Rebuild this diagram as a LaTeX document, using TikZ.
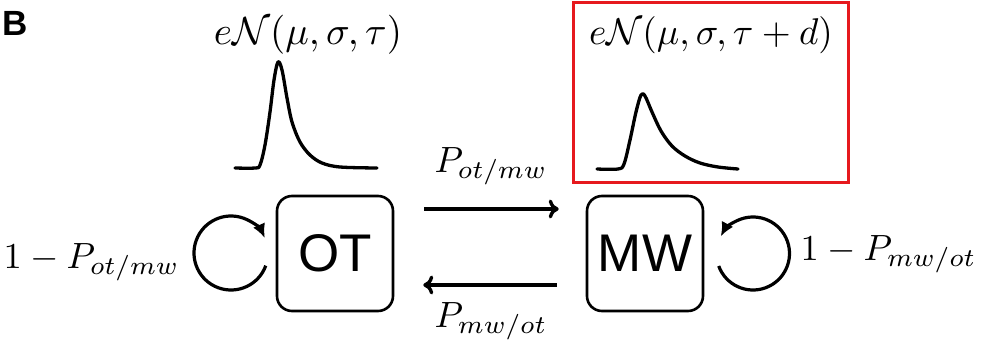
\documentclass[tikz,border=0pt]{standalone}
\usepackage{fontspec}
\newfontfamily\sff{Liberation Sans}
\usetikzlibrary{arrows.meta}
\definecolor{boxred}{RGB}{230,25,30}
\begin{document}
\begin{tikzpicture}[x=1pt,y=-1pt,
  statebox/.style={draw, line width=2.6pt, rounded corners=15pt, minimum width=116pt, minimum height=115pt, inner sep=0pt, font=\sff\fontsize{53}{60}\selectfont},
  mlab/.style={inner sep=0pt, font=\fontsize{10}{12}\selectfont, scale=3.65, transform shape},
  flab/.style={inner sep=0pt, font=\fontsize{10}{12}\selectfont, scale=3.8, transform shape},
  arr/.style={line width=3.4pt, -{To[length=10pt,width=19pt]}},
  looparr/.style={line width=3.2pt, -{Latex[length=14pt,width=13pt]}},
  curve/.style={line width=3.3pt, line join=round, line cap=round}]
\useasboundingbox (0,0) rectangle (983,346);
\node[anchor=base west, inner sep=0pt, font=\sff\bfseries\fontsize{35}{40}\selectfont] (lab) at (2,35) {B};
\node[statebox] (OT) at (335,253.5) {OT};
\node[statebox] (MW) at (645,253.5) {MW};
% transitions
\draw[arr] ([xshift=30pt,yshift=44.5pt]OT.east) -- ([xshift=-27pt,yshift=44.5pt]MW.west);
\draw[arr] ([xshift=-29pt,yshift=-31.5pt]MW.west) -- ([xshift=29pt,yshift=-31.5pt]OT.east);
\node[mlab, anchor=base] (p1) at (491,172) {$P_{ot/mw}$};
\node[mlab, anchor=base] (p2) at (491,327) {$P_{mw/ot}$};
% self loops
\coordinate (lc) at (231,253);
\coordinate (rc) at (753,253.5);
\draw[looparr] ([shift={(20:37)}]lc) arc[start angle=20, end angle=336, radius=37];
\draw[looparr] ([shift={(160:36.5)}]rc) arc[start angle=160, end angle=-152, radius=36.5];
\node[mlab, anchor=base west] (l1) at (3,268) {$1-P_{ot/mw}$};
\node[mlab, anchor=base west] (l2) at (800,260) {$1-P_{mw/ot}$};
% distributions
\node[flab, anchor=base, scale=1.03] (f1) at (308,44) {$e\mathcal{N}(\mu,\sigma,\tau)$};
\node[flab, anchor=base, scale=0.98] (f2) at (711,44) {$e\mathcal{N}(\mu,\sigma,\tau+d)$};
\draw[curve] plot[smooth, tension=0.55] coordinates {(235,168) (255,168) (260,165) (265,145) (270,112) (274,80) (278,62) (282,70) (287,98) (292,122) (300,142) (310,155) (322,163) (340,167) (377,168)};
\draw[curve] plot[smooth, tension=0.55] coordinates {(597,169) (618,169) (624,164) (630,140) (636,112) (641,95) (645,96) (652,112) (661,131) (672,146) (685,156) (700,163) (718,167) (738,169)};
\draw[boxred, line width=3pt] (573,2.5) rectangle (848,182);
\end{tikzpicture}
\end{document}
